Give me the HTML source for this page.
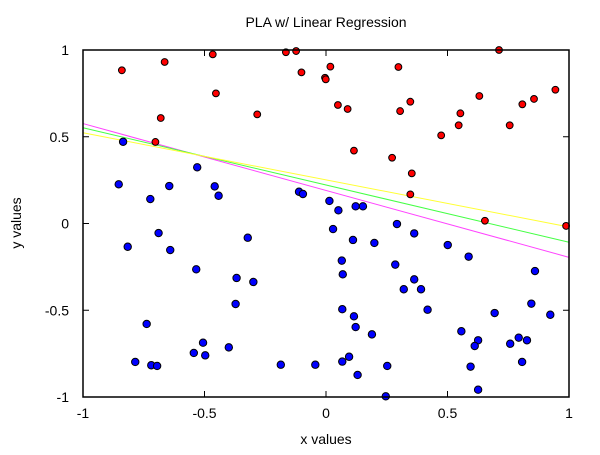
<!DOCTYPE html>
<html><head><meta charset="utf-8"><style>
body{margin:0;background:#fff}
svg text{font-family:"Liberation Sans",sans-serif;font-size:14px;fill:#000}
</style></head><body>
<svg id="chart" width="600" height="450" xmlns="http://www.w3.org/2000/svg">
<text x="326" y="27" text-anchor="middle">PLA w/ Linear Regression</text>
<text x="326" y="444" text-anchor="middle">x values</text>
<text transform="translate(21,223) rotate(-90)" text-anchor="middle">y values</text>
<g id="axes"></g><g id="lines"></g><g id="points"></g>
<rect x="83" y="50" width="486" height="347" fill="none" stroke="#000" stroke-width="1.5"/>
</svg>
<script>
const xTicks=[-1,-0.5,0,0.5,1];
const xTickLabels=["-1","-0.5","0","0.5","1"];
const yTicks=[-1,-0.5,0,0.5,1];
const yTickLabels=["-1","-0.5","0","0.5","1"];
const redX=[-0.840,-0.664,-0.466,-0.453,-0.680,-0.702,-0.283,-0.165,-0.123,-0.101,-0.004,-0.001,0.018,0.298,0.712,0.049,0.089,0.347,0.305,0.631,0.553,0.546,0.474,0.756,0.808,0.856,0.944,0.115,0.272,0.353,0.347,0.654,0.988];
const redY=[0.883,0.931,0.975,0.750,0.608,0.470,0.629,0.987,0.994,0.871,0.840,0.831,0.904,0.902,1.0,0.683,0.660,0.702,0.648,0.735,0.635,0.566,0.508,0.566,0.687,0.718,0.771,0.420,0.379,0.289,0.168,0.016,-0.014];
const blueX=[-0.835,-0.853,-0.645,-0.723,-0.530,-0.458,-0.442,-0.111,-0.095,0.014,0.051,0.122,0.152,-0.689,-0.816,-0.641,-0.322,-0.534,-0.368,-0.299,-0.372,-0.738,-0.506,-0.544,-0.497,-0.400,-0.785,-0.719,-0.695,-0.186,-0.044,0.029,0.292,0.363,0.111,0.199,0.501,0.587,0.065,0.069,0.285,0.860,0.363,0.320,0.391,0.845,0.067,0.418,0.694,0.923,0.115,0.122,0.189,0.557,0.626,0.612,0.793,0.758,0.827,0.095,0.067,0.252,0.595,0.807,0.130,0.626,0.246];
const blueY=[0.471,0.226,0.216,0.141,0.324,0.214,0.160,0.183,0.170,0.130,0.076,0.099,0.099,-0.055,-0.134,-0.153,-0.082,-0.264,-0.314,-0.337,-0.464,-0.579,-0.687,-0.746,-0.760,-0.714,-0.798,-0.817,-0.821,-0.814,-0.814,-0.032,-0.003,-0.057,-0.095,-0.112,-0.124,-0.191,-0.214,-0.293,-0.237,-0.274,-0.322,-0.379,-0.379,-0.462,-0.494,-0.497,-0.516,-0.526,-0.535,-0.597,-0.639,-0.621,-0.673,-0.706,-0.658,-0.693,-0.673,-0.768,-0.796,-0.821,-0.825,-0.798,-0.873,-0.958,-0.996];
const lineNames=["pink-line","green-line","yellow-line"];
const lineColors=["#ff44ff","#44ff44","#ffff33"];
const lineY0=[0.576,0.552,0.523];
const lineY1=[-0.195,-0.108,-0.02];
const NS="http://www.w3.org/2000/svg";
const X=v=>326+v*243, Y=v=>223.5-v*173.5;
function mk(t,a,p){const e=document.createElementNS(NS,t);for(const k in a)e.setAttribute(k,a[k]);p.appendChild(e);return e;}
const ax=document.getElementById('axes');
xTicks.forEach((t,i)=>{
 const l=mk('path',{d:`M${X(t)},397v-6M${X(t)},50v6`,stroke:'#000'},ax);
 
 
 const tx=mk('text',{x:X(t),y:418,'text-anchor':'middle'},ax);tx.textContent=xTickLabels[i];
 
 
});
yTicks.forEach((t,i)=>{
 const l=mk('path',{d:`M83,${Y(t)}h6M569,${Y(t)}h-6`,stroke:'#000'},ax);
 
 
 const tx=mk('text',{x:69,y:Y(t)+5,'text-anchor':'end'},ax);tx.textContent=yTickLabels[i];
 
 
});
const lg=document.getElementById('lines');
lineNames.forEach((n,i)=>{
 const l=mk('line',{x1:X(-1),y1:Y(lineY0[i]),x2:X(1),y2:Y(lineY1[i]),stroke:lineColors[i],'stroke-width':1},lg);
 
 
});
const pg=document.getElementById('points');
blueX.forEach((x,i)=>{
 const c=mk('circle',{cx:X(x),cy:Y(blueY[i]),r:3.7,fill:'#0000ff',stroke:'#000','stroke-width':1},pg);
 
 
});
redX.forEach((x,i)=>{
 const c=mk('circle',{cx:X(x),cy:Y(redY[i]),r:3.4,fill:'#ff0000',stroke:'#000','stroke-width':1},pg);
 
 
});
</script>
</body></html>
